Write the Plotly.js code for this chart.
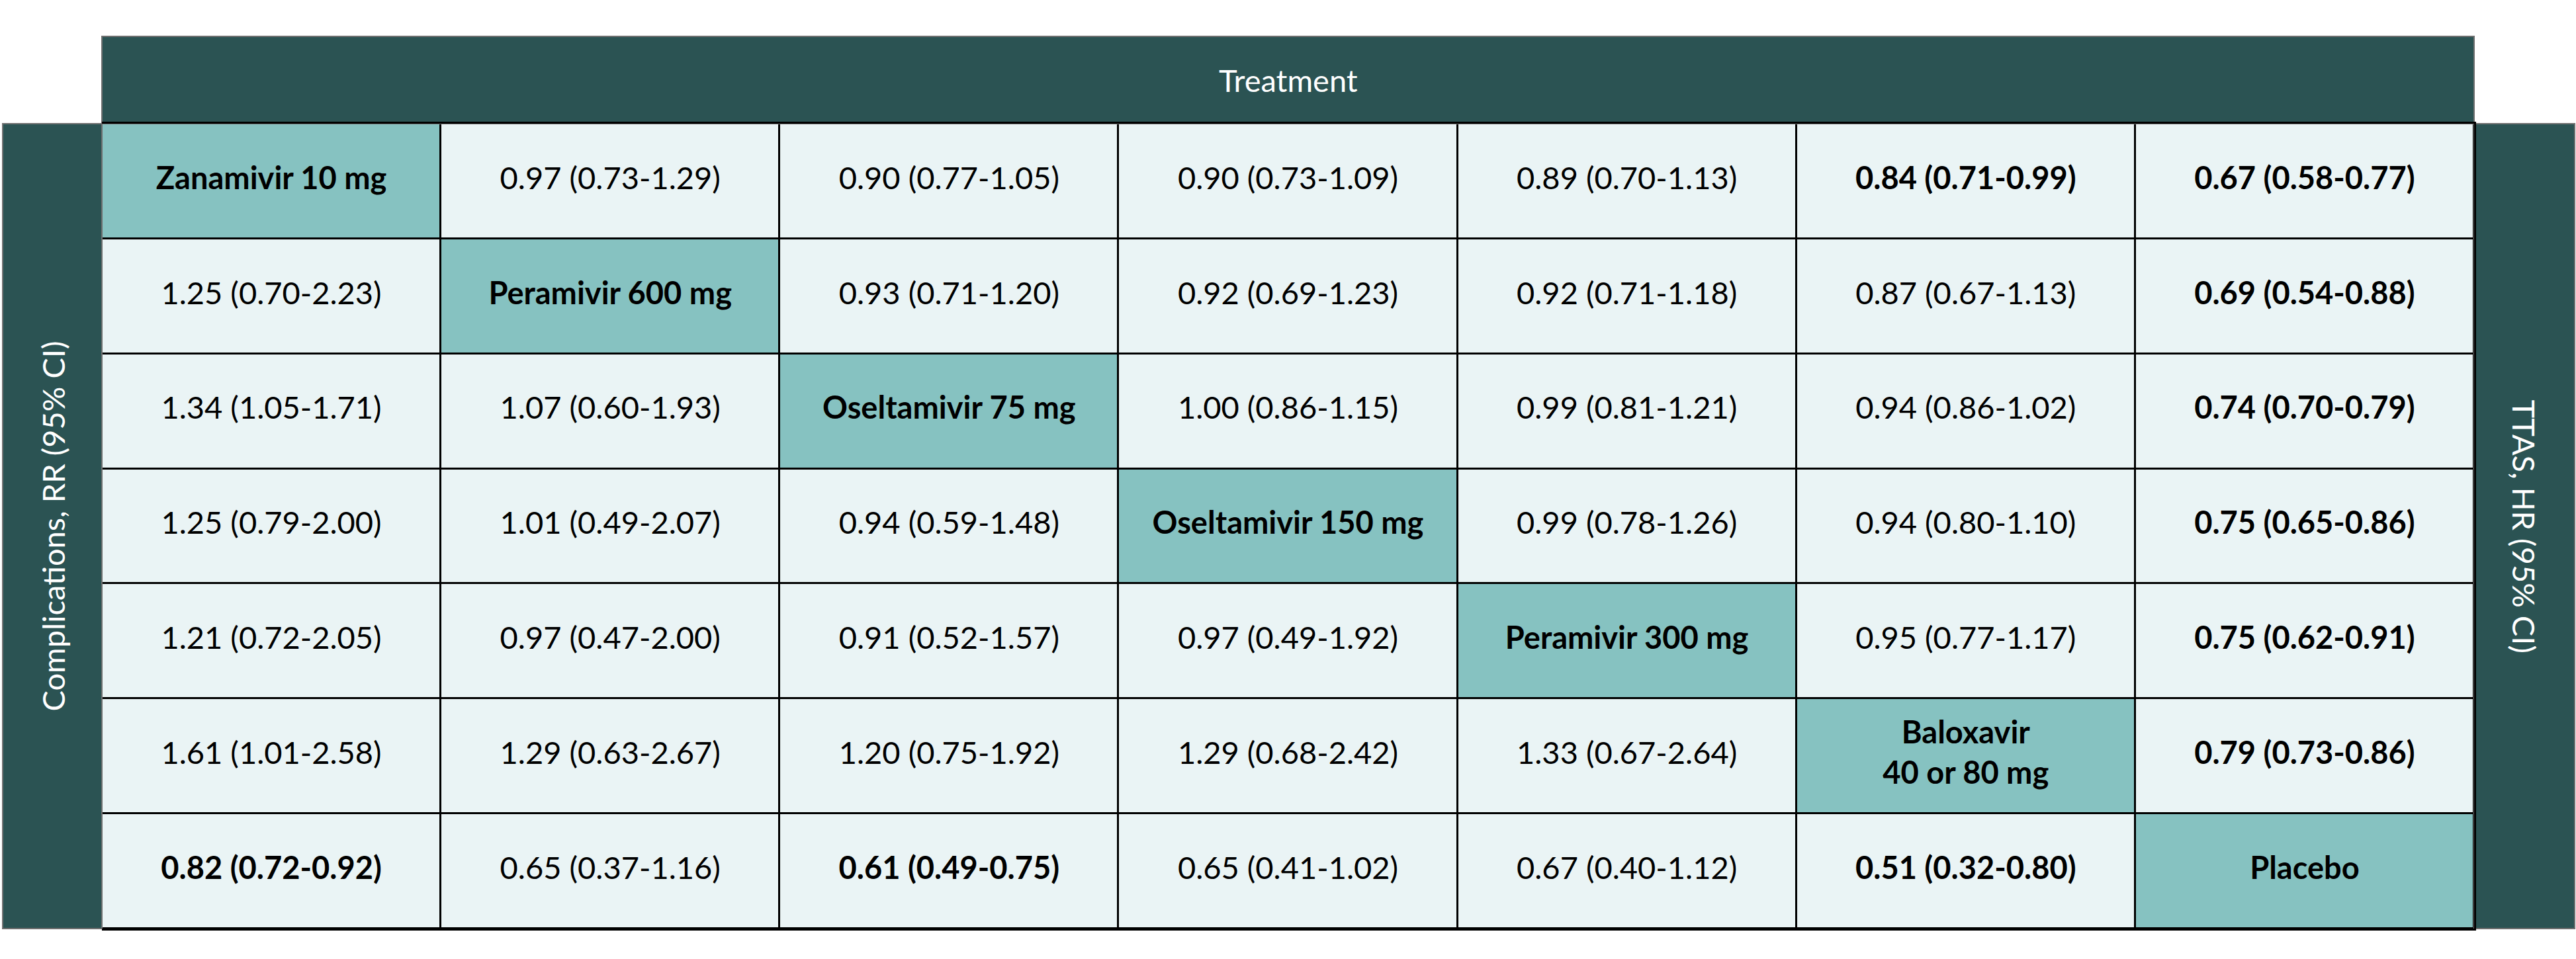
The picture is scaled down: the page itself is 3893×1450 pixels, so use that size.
<!DOCTYPE html>
<html>
<head>
<meta charset="utf-8">
<script src="https://cdn.plot.ly/plotly-3.0.1.min.js"></script>
<style>html,body{margin:0;padding:0;background:#fff;}#chart{width:3893px;height:1450px;}</style>
</head>
<body>
<div id="chart"></div>
<script>
// Treatments (diagonal labels)
const treatments = ["Zanamivir 10 mg", "Peramivir 600 mg", "Oseltamivir 75 mg", "Oseltamivir 150 mg",
  "Peramivir 300 mg", "Baloxavir<br>40 or 80 mg", "Placebo"];

// Cell values by row (diagonal cell = null)
const row1 = [null, "0.97 (0.73-1.29)", "0.90 (0.77-1.05)", "0.90 (0.73-1.09)", "0.89 (0.70-1.13)", "0.84 (0.71-0.99)", "0.67 (0.58-0.77)"];
const row2 = ["1.25 (0.70-2.23)", null, "0.93 (0.71-1.20)", "0.92 (0.69-1.23)", "0.92 (0.71-1.18)", "0.87 (0.67-1.13)", "0.69 (0.54-0.88)"];
const row3 = ["1.34 (1.05-1.71)", "1.07 (0.60-1.93)", null, "1.00 (0.86-1.15)", "0.99 (0.81-1.21)", "0.94 (0.86-1.02)", "0.74 (0.70-0.79)"];
const row4 = ["1.25 (0.79-2.00)", "1.01 (0.49-2.07)", "0.94 (0.59-1.48)", null, "0.99 (0.78-1.26)", "0.94 (0.80-1.10)", "0.75 (0.65-0.86)"];
const row5 = ["1.21 (0.72-2.05)", "0.97 (0.47-2.00)", "0.91 (0.52-1.57)", "0.97 (0.49-1.92)", null, "0.95 (0.77-1.17)", "0.75 (0.62-0.91)"];
const row6 = ["1.61 (1.01-2.58)", "1.29 (0.63-2.67)", "1.20 (0.75-1.92)", "1.29 (0.68-2.42)", "1.33 (0.67-2.64)", null, "0.79 (0.73-0.86)"];
const row7 = ["0.82 (0.72-0.92)", "0.65 (0.37-1.16)", "0.61 (0.49-0.75)", "0.65 (0.41-1.02)", "0.67 (0.40-1.12)", "0.51 (0.32-0.80)", null];

// Bold (significant) cells: [row, col]
const boldCells = [[0,5],[0,6],[1,6],[2,6],[3,6],[4,6],[5,6],[6,0],[6,2],[6,5]];

const topTitle = "Treatment";
const leftTitle = "Complications, RR (95% CI)";
const rightTitle = "TTAS, HR (95% CI)";

const rows = [row1, row2, row3, row4, row5, row6, row7];
const n = treatments.length;
const idx = [...Array(n).keys()];

const z = rows.map((r, i) => r.map((v, j) => (i === j ? 1 : 0)));

const tx = [], ty = [], tt = [];
rows.forEach((r, i) => {
  r.forEach((v, j) => {
    let s = (i === j) ? treatments[i] : v;
    const bold = (i === j) || boldCells.some(c => c[0] === i && c[1] === j);
    if (bold) s = s.split("<br>").map(p => "<b>" + p + "</b>").join("<br>");
    tx.push(j); ty.push(i); tt.push(s);
  });
});

const FONT = "Lato, Open Sans, Liberation Sans, sans-serif";
const DARK = "#2B5353";

const heat = {
  type: "heatmap", x: idx, y: idx, z: z,
  colorscale: [[0, "#EAF4F5"], [1, "#86C2C1"]],
  zmin: 0, zmax: 1, showscale: false, xgap: 3, ygap: 3, hoverinfo: "skip"
};
const labels = {
  type: "scatter", mode: "text", x: tx, y: ty, text: tt,
  textposition: "middle center",
  textfont: {family: FONT, size: 47, color: "#000"},
  hoverinfo: "skip", cliponaxis: false
};

const W = 3893, H = 1450;
const L = 154, R = 154, T = 187, B = 46;
const pw = W - L - R, ph = H - T - B;
const headerTop = 1 + (T - 55) / ph;
const leftEdge = (4 - L) / pw;
const rightEdge = (W - 2 - L) / pw;

const layout = {
  width: W, height: H,
  margin: {l: L, r: R, t: T, b: B, pad: 0},
  paper_bgcolor: "#ffffff", plot_bgcolor: "#000000",
  showlegend: false,
  xaxis: {range: [-0.5, n - 0.5], showgrid: false, zeroline: false, showticklabels: false, ticks: "",
    showline: true, mirror: true, linecolor: "#000", linewidth: 3, fixedrange: true},
  yaxis: {range: [n - 0.5, -0.5], showgrid: false, zeroline: false, showticklabels: false, ticks: "",
    side: "right", showline: true, mirror: false, linecolor: "#000", linewidth: 3, fixedrange: true},
  shapes: [
    {type: "rect", xref: "paper", yref: "paper", x0: 0, x1: 1, y0: 1, y1: headerTop,
      fillcolor: DARK, line: {color: "#707070", width: 2}, layer: "below"},
    {type: "rect", xref: "paper", yref: "paper", x0: leftEdge, x1: 0, y0: 0, y1: 1,
      fillcolor: DARK, line: {color: "#707070", width: 2}, layer: "below"},
    {type: "rect", xref: "paper", yref: "paper", x0: 1, x1: rightEdge, y0: 0, y1: 1,
      fillcolor: DARK, line: {color: "#707070", width: 2}, layer: "below"}
  ],
  annotations: [
    {text: topTitle, xref: "paper", yref: "paper", x: 0.5, y: (1 + headerTop) / 2,
      showarrow: false, xanchor: "center", yanchor: "middle",
      font: {family: FONT, size: 47, color: "#ffffff"}},
    {text: leftTitle, xref: "paper", yref: "paper", x: leftEdge / 2, y: 0.5, textangle: -90,
      showarrow: false, xanchor: "center", yanchor: "middle",
      font: {family: FONT, size: 47, color: "#ffffff"}},
    {text: rightTitle, xref: "paper", yref: "paper", x: (1 + rightEdge) / 2, y: 0.5, textangle: 90,
      showarrow: false, xanchor: "center", yanchor: "middle",
      font: {family: FONT, size: 47, color: "#ffffff"}}
  ]
};

Plotly.newPlot("chart", [heat, labels], layout, {displayModeBar: false, staticPlot: true});
</script>
</body>
</html>
